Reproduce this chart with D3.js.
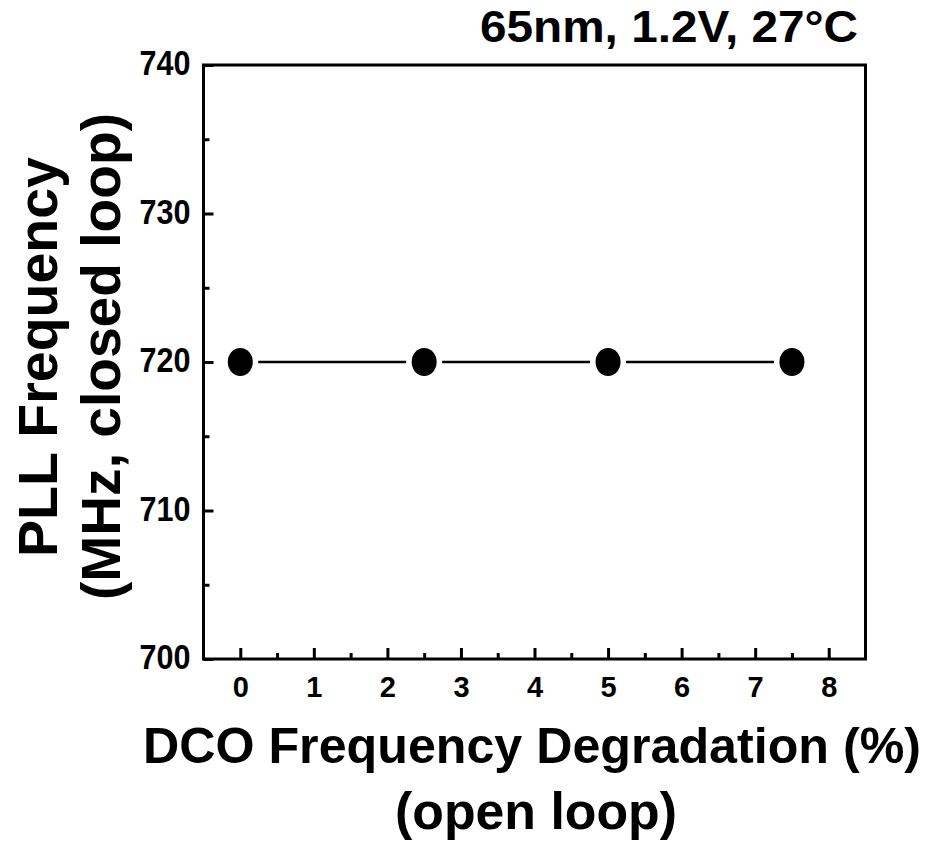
<!DOCTYPE html>
<html>
<head>
<meta charset="utf-8">
<script src="https://cdn.jsdelivr.net/npm/d3@7"></script>
<style>
  body { margin: 0; background: #fff; }
  text { font-family: "Liberation Sans", Arial, sans-serif; font-weight: bold; fill: #000; }
</style>
</head>
<body>
<div id="chart"></div>
<script>
// data
var degradation = [0, 2.5, 5, 7.5];          // DCO freq degradation (%), open loop
var pllFreq = [720, 720, 720, 720];          // PLL freq (MHz), closed loop
var xTicks = [0, 1, 2, 3, 4, 5, 6, 7, 8];
var xMinor = [0.5, 1.5, 2.5, 3.5, 4.5, 5.5, 6.5, 7.5];
var yTicks = [700, 710, 720, 730, 740];
var yMinor = [705, 715, 725, 735];

var width = 934, height = 842;
var margin = { top: 65, bottom: 183, left: 203.5, right: 68.5 };
var w = width - margin.left - margin.right;
var h = height - margin.top - margin.bottom;

var svg = d3.select('#chart')
    .append('svg')
    .attr('width', width)
    .attr('height', height);

var g = svg.append('g')
    .attr('transform', 'translate(' + margin.left + ',' + margin.top + ')');

var x_scale = d3.scaleLinear().domain([-0.5, 8.5]).range([0, w]);
var y_scale = d3.scaleLinear().domain([700, 740]).range([h, 0]);

// x axis, ticks pointing inward
var xAxis = g.append('g')
    .attr('transform', 'translate(0,' + h + ')')
    .call(d3.axisBottom(x_scale).tickValues(xTicks).tickSize(-11).tickPadding(17));
xAxis.selectAll('text').style('font-size', '29px');

g.append('g')
    .attr('transform', 'translate(0,' + h + ')')
    .call(d3.axisBottom(x_scale).tickValues(xMinor).tickSize(-6).tickFormat(''));

// y axis
var yAxis = g.append('g')
    .call(d3.axisLeft(y_scale).tickValues(yTicks).tickSize(-10).tickPadding(13));
yAxis.selectAll('text')
    .style('font-size', '35px')
    .attr('dy', '0.28em')
    .attr('textLength', 51)
    .attr('lengthAdjust', 'spacingAndGlyphs');

g.append('g')
    .call(d3.axisLeft(y_scale).tickValues(yMinor).tickSize(-6).tickFormat(''));

g.selectAll('.domain').remove();
g.selectAll('.tick line').attr('stroke', '#000').attr('stroke-width', 3);

// frame
g.append('rect')
    .attr('x', 0).attr('y', 0)
    .attr('width', w).attr('height', h)
    .attr('fill', 'none')
    .attr('stroke', '#000')
    .attr('stroke-width', 3);

// connecting segments, with a small gap around each marker
var pts = degradation.map(function (d, i) { return [x_scale(d), y_scale(pllFreq[i])]; });
var gap = 18;
for (var i = 0; i < pts.length - 1; i++) {
    g.append('line')
        .attr('x1', pts[i][0] + gap).attr('y1', pts[i][1])
        .attr('x2', pts[i + 1][0] - gap).attr('y2', pts[i + 1][1])
        .attr('stroke', '#000')
        .attr('stroke-width', 2.5);
}

g.selectAll('ellipse')
    .data(pts)
    .enter()
    .append('ellipse')
    .attr('cx', function (d) { return d[0]; })
    .attr('cy', function (d) { return d[1]; })
    .attr('rx', 12.5)
    .attr('ry', 14)
    .attr('fill', '#000');

// titles
svg.append('text')
    .attr('x', 480).attr('y', 42)
    .attr('textLength', 378).attr('lengthAdjust', 'spacingAndGlyphs')
    .style('font-size', '44px')
    .text('65nm, 1.2V, 27°C');

svg.append('text')
    .attr('x', 143).attr('y', 763)
    .attr('textLength', 778).attr('lengthAdjust', 'spacingAndGlyphs')
    .style('font-size', '50px')
    .text('DCO Frequency Degradation (%)');

svg.append('text')
    .attr('x', 395).attr('y', 829)
    .attr('textLength', 282).attr('lengthAdjust', 'spacingAndGlyphs')
    .style('font-size', '52px')
    .text('(open loop)');

svg.append('text')
    .attr('transform', 'translate(57,557) rotate(-90)')
    .attr('textLength', 400).attr('lengthAdjust', 'spacingAndGlyphs')
    .style('font-size', '56px')
    .text('PLL Frequency');

svg.append('text')
    .attr('transform', 'translate(120,600) rotate(-90)')
    .attr('textLength', 487).attr('lengthAdjust', 'spacingAndGlyphs')
    .style('font-size', '56px')
    .text('(MHz, closed loop)');
</script>
</body>
</html>
